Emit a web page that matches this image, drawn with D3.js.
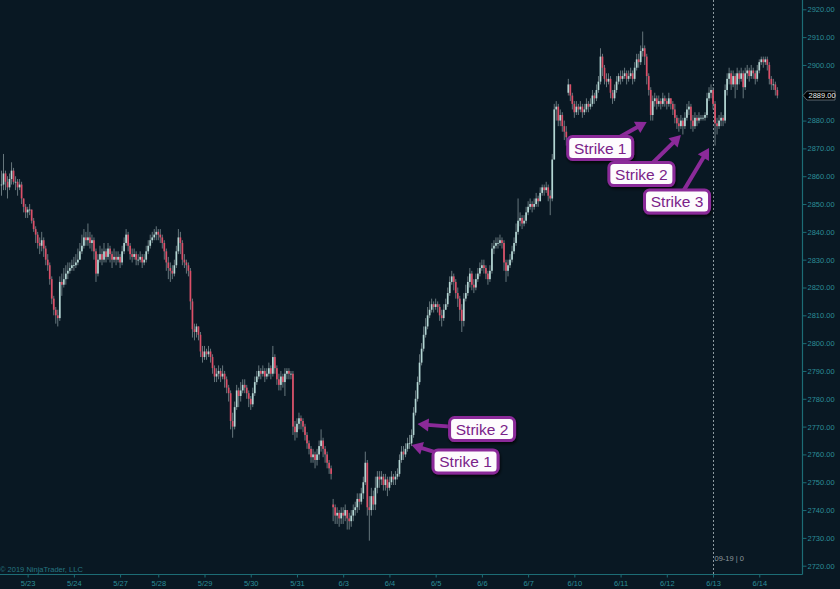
<!DOCTYPE html>
<html>
<head>
<meta charset="utf-8">
<script src="https://cdn.jsdelivr.net/npm/d3@7"></script>
<style>
  body { margin: 0; background: #091823; }
  svg { display: block; font-family: "Liberation Sans", Arial, sans-serif; }
</style>
</head>
<body>
<svg id="chart" width="840" height="589"></svg>
<script>
// ES 09-19, 60 minute bars, 5/22 evening -> 6/14
var closes = [
  2857,2861,2858,2856,2859,2862,2858,2858,2856,2857, 2852,2849,2847,2848,2848,2844,2841,2839,2836,2835,
  2837,2834,2830,2828,2823,2816,2812,2810,2809,2822, 2821,2823,2825,2826,2827,2828,2828,2829,2830,2833,
  2835,2838,2837,2838,2836,2837,2833,2825,2830,2832, 2830,2833,2831,2834,2832,2830,2831,2830,2831,2829,
  2833,2836,2839,2835,2832,2831,2832,2830,2830,2831, 2829,2830,2833,2835,2837,2838,2839,2840,2839,2838,
  2836,2833,2829,2827,2826,2825,2828,2833,2838,2836, 2830,2829,2828,2826,2815,2805,2804,2806,2803,2797,
  2795,2797,2796,2797,2795,2791,2788,2789,2790,2788, 2789,2787,2784,2782,2772,2770,2777,2783,2781,2783,
  2785,2784,2782,2780,2778,2782,2786,2788,2790,2789, 2790,2788,2789,2791,2789,2795,2791,2787,2785,2788,
  2786,2789,2790,2789,2789,2770,2768,2771,2773,2772, 2770,2767,2764,2762,2759,2760,2758,2760,2763,2765,
  2762,2760,2757,2755,2753,2741,2738,2739,2737,2739, 2738,2740,2737,2736,2738,2740,2741,2744,2743,2746,
  2750,2757,2741,2740,2745,2742,2748,2752,2751,2752, 2749,2751,2748,2750,2752,2751,2752,2753,2758,2761,
  2760,2762,2764,2764,2767,2775,2780,2786,2793,2798, 2803,2806,2810,2812,2814,2813,2814,2813,2810,2809,
  2812,2814,2818,2822,2824,2822,2818,2816,2812,2808, 2816,2818,2822,2825,2821,2820,2823,2825,2827,2828,
  2827,2825,2823,2826,2834,2835,2836,2836,2837,2836, 2829,2826,2828,2830,2833,2836,2840,2844,2845,2843,
  2844,2847,2849,2850,2849,2850,2852,2851,2854,2856, 2855,2856,2853,2852,2866,2884,2885,2880,2882,2878,
  2876,2874,2893,2889,2886,2883,2885,2884,2885,2883, 2884,2886,2885,2886,2889,2888,2891,2894,2903,2899,
  2895,2894,2895,2890,2888,2891,2894,2896,2895,2896, 2897,2895,2896,2897,2895,2899,2902,2901,2905,2906,
  2903,2896,2891,2882,2887,2888,2886,2887,2886,2888, 2887,2886,2888,2886,2884,2881,2879,2878,2880,2878,
  2881,2884,2885,2880,2878,2881,2880,2881,2881,2881, 2882,2888,2890,2891,2886,2879,2878,2880,2881,2880,
  2891,2895,2897,2893,2896,2893,2897,2895,2897,2892, 2897,2898,2896,2898,2897,2895,2898,2901,2902,2901,
  2902,2900,2895,2893,2893,2891,2889
];
var highs = [
  2862,2868,2862,2860,2861,2865,2863,2860,2859,2859, 2858,2852,2850,2849,2850,2848,2845,2842,2840,2838,
  2840,2838,2835,2832,2829,2824,2817,2813,2812,2824, 2825,2827,2828,2829,2829,2830,2831,2832,2834,2836,
  2839,2841,2840,2843,2840,2839,2838,2834,2832,2835, 2834,2836,2834,2836,2835,2833,2834,2833,2833,2832,
  2835,2838,2841,2840,2836,2834,2834,2833,2832,2833, 2832,2832,2835,2837,2839,2840,2841,2842,2841,2841,
  2839,2837,2834,2831,2829,2828,2830,2835,2841,2840, 2837,2832,2830,2829,2827,2816,2807,2807,2806,2804,
  2799,2799,2798,2799,2798,2796,2792,2791,2792,2791, 2792,2790,2788,2785,2783,2775,2779,2785,2784,2786,
  2787,2787,2785,2783,2781,2784,2788,2790,2792,2791, 2792,2791,2791,2793,2792,2799,2796,2792,2789,2790,
  2789,2791,2791,2791,2790,2790,2772,2773,2775,2774, 2773,2771,2768,2765,2763,2762,2761,2762,2765,2769,
  2766,2763,2761,2758,2756,2744,2742,2741,2740,2741, 2741,2742,2740,2739,2740,2742,2743,2746,2746,2748,
  2752,2761,2758,2745,2748,2747,2752,2754,2754,2754, 2753,2753,2752,2752,2754,2753,2754,2755,2760,2763,
  2763,2764,2766,2767,2769,2777,2783,2788,2796,2800, 2806,2809,2813,2815,2816,2815,2816,2815,2814,2812,
  2814,2816,2820,2824,2826,2825,2823,2820,2817,2814, 2818,2821,2824,2827,2826,2823,2825,2827,2829,2830,
  2830,2828,2826,2828,2836,2837,2838,2838,2839,2838, 2837,2830,2830,2832,2835,2838,2843,2852,2847,2846,
  2846,2849,2851,2852,2851,2852,2854,2853,2856,2857, 2857,2858,2857,2855,2868,2886,2887,2886,2884,2883,
  2880,2878,2895,2893,2890,2887,2887,2886,2887,2886, 2886,2888,2887,2888,2891,2890,2893,2896,2906,2904,
  2900,2897,2897,2896,2891,2893,2896,2897,2898,2898, 2899,2898,2898,2899,2898,2901,2904,2904,2907,2912,
  2907,2904,2897,2892,2889,2890,2889,2889,2888,2890, 2889,2888,2890,2888,2887,2886,2882,2881,2882,2881,
  2883,2886,2887,2886,2882,2883,2882,2883,2882,2882, 2883,2890,2892,2893,2892,2887,2881,2882,2883,2882,
  2893,2897,2899,2898,2898,2897,2899,2898,2899,2898, 2899,2900,2899,2900,2899,2898,2900,2902,2903,2903,
  2903,2903,2901,2896,2895,2894,2892
];
var lows = [
  2853,2855,2855,2852,2855,2857,2857,2855,2853,2855, 2850,2847,2845,2845,2846,2843,2840,2836,2834,2832,
  2833,2831,2828,2826,2821,2814,2810,2807,2806,2808, 2817,2820,2821,2823,2825,2826,2826,2827,2828,2830,
  2832,2834,2835,2835,2834,2833,2830,2822,2824,2829, 2828,2829,2829,2830,2829,2827,2829,2828,2829,2827,
  2828,2832,2835,2833,2830,2829,2830,2828,2828,2829, 2827,2828,2829,2832,2834,2836,2837,2837,2837,2836,
  2834,2830,2826,2823,2822,2823,2824,2827,2832,2832, 2828,2827,2825,2824,2812,2802,2801,2802,2801,2795,
  2793,2794,2794,2795,2793,2789,2786,2786,2787,2786, 2787,2784,2782,2779,2769,2766,2769,2776,2777,2779,
  2782,2782,2780,2777,2776,2777,2781,2785,2787,2787, 2788,2786,2787,2788,2787,2788,2789,2785,2783,2783,
  2784,2781,2787,2787,2787,2767,2765,2766,2769,2769, 2768,2765,2762,2760,2757,2757,2755,2756,2758,2761,
  2759,2757,2755,2753,2751,2736,2735,2735,2734,2735, 2735,2736,2733,2733,2734,2736,2738,2739,2740,2742,
  2744,2749,2738,2729,2738,2740,2740,2746,2748,2749, 2747,2747,2745,2747,2749,2749,2749,2751,2752,2757,
  2758,2759,2761,2762,2763,2766,2774,2779,2785,2792, 2797,2802,2805,2809,2811,2811,2812,2811,2808,2806,
  2808,2812,2813,2817,2821,2819,2816,2813,2808,2804, 2806,2815,2817,2820,2819,2818,2819,2822,2824,2826,
  2825,2823,2821,2822,2825,2832,2834,2834,2835,2834, 2826,2822,2824,2827,2829,2832,2835,2839,2842,2841,
  2842,2843,2846,2848,2847,2848,2849,2849,2851,2853, 2853,2854,2851,2846,2851,2866,2880,2878,2878,2876,
  2873,2871,2889,2887,2884,2881,2882,2882,2883,2881, 2882,2883,2883,2884,2885,2886,2887,2890,2893,2896,
  2893,2892,2893,2888,2886,2887,2890,2893,2893,2894, 2895,2893,2894,2895,2893,2894,2898,2899,2900,2903,
  2900,2893,2889,2880,2880,2885,2884,2885,2884,2885, 2885,2884,2885,2884,2882,2879,2877,2876,2877,2875,
  2877,2880,2882,2877,2876,2877,2878,2879,2880,2880, 2880,2881,2887,2888,2884,2871,2875,2877,2878,2878,
  2879,2889,2893,2891,2892,2888,2891,2893,2894,2888, 2891,2895,2894,2895,2895,2893,2894,2897,2900,2899,
  2900,2898,2893,2891,2891,2889,2888
];
// opens after a session gap (other bars open at the prior close)
var sessionOpens = { 165: 2742, 282: 2890 };

var dayLabels = ["5/23","5/24","5/27","5/28","5/29","5/30","5/31","6/3","6/4","6/5","6/6","6/7","6/10","6/11","6/12","6/13","6/14"];
var dayStartBar = [13,36,59,78,101,124,147,170,193,216,239,262,285,308,331,354,377];
var priceTicks = [2720,2730,2740,2750,2760,2770,2780,2790,2800,2810,2820,2830,2840,2850,2860,2870,2880,2890,2900,2910,2920];
var lastPrice = 2889.00;
var rolloverBar = 354;
var rolloverText = "09-19 | 0";

var strikeLabels = ["Strike 1","Strike 2","Strike 1","Strike 2","Strike 3"];
var strikeBars   = [204, 207, 321, 338, 352];
var strikePrices = [2763.4, 2770.9, 2879.5, 2874.8, 2870.1];

var bars = closes.map(function(c, i) {
  var o = sessionOpens[i] != null ? sessionOpens[i] : (i === 0 ? c : closes[i - 1]);
  return { i: i, open: o, high: highs[i], low: lows[i], close: c };
});

//------------------------------------------------------------------------------------->
var svg = d3.select("#chart");
var plotRight = 802, plotBottom = 574;

var x = d3.scaleLinear().domain([0, bars.length - 1]).range([1.5, 1.5 + (bars.length - 1) * 2.01]);
var y = d3.scaleLinear().domain([2720, 2920]).range([565.7, 9.3]);

var axisColor = "#1c6c75", labelColor = "#2b8d97";

svg.append("rect").attr("width", 840).attr("height", 589).attr("fill", "#091823");

// drop shadow for callouts
var defs = svg.append("defs");
var f = defs.append("filter").attr("id", "shadow").attr("x", "-30%").attr("y", "-30%").attr("width", "160%").attr("height", "180%");
f.append("feDropShadow").attr("dx", 1).attr("dy", 2).attr("stdDeviation", 1.8)
  .attr("flood-color", "#000").attr("flood-opacity", 0.75);
defs.append("clipPath").attr("id", "plot").append("rect")
  .attr("width", plotRight).attr("height", plotBottom);

// rollover dotted line
var rx = Math.round(x(rolloverBar)) + 0.5;
svg.append("line")
  .attr("x1", rx).attr("x2", rx).attr("y1", 0).attr("y2", plotBottom)
  .attr("stroke", "#8d9aa0").attr("stroke-width", 1).attr("stroke-dasharray", "2,2");
svg.append("text").attr("x", rx + 1).attr("y", 561)
  .attr("font-size", 7.5).attr("fill", "#8d979c").text(rolloverText);

// candles
var candles = svg.append("g").attr("clip-path", "url(#plot)")
  .selectAll("g").data(bars).enter().append("g");

candles.append("line")
  .attr("x1", function(d) { return x(d.i); })
  .attr("x2", function(d) { return x(d.i); })
  .attr("y1", function(d) { return y(d.high); })
  .attr("y2", function(d) { return y(d.low); })
  .attr("stroke", "#66767c").attr("stroke-width", 1);

candles.append("rect")
  .attr("x", function(d) { return x(d.i) - 0.85; })
  .attr("width", 1.7)
  .attr("y", function(d) { return y(Math.max(d.open, d.close)); })
  .attr("height", function(d) { return Math.max(0.8, Math.abs(y(d.open) - y(d.close))); })
  .attr("fill", function(d) { return d.close >= d.open ? "#b3d6d3" : "#dc4f68"; });

// frame
svg.append("line").attr("x1", 0).attr("x2", plotRight + 0.5).attr("y1", plotBottom + 0.5).attr("y2", plotBottom + 0.5)
  .attr("stroke", axisColor).attr("stroke-width", 1.2);
svg.append("line").attr("x1", plotRight + 0.5).attr("x2", plotRight + 0.5).attr("y1", 0).attr("y2", plotBottom + 0.5)
  .attr("stroke", axisColor).attr("stroke-width", 1.2);

// y axis (labels under the last-price marker are hidden, as in the platform)
var shownTicks = priceTicks.filter(function(p) { return Math.abs(p - lastPrice) > 3; });
var yAxis = svg.append("g").attr("transform", "translate(" + (plotRight + 0.5) + ",0)")
  .call(d3.axisRight(y).tickValues(shownTicks).tickFormat(d3.format(".2f")).tickSize(4).tickSizeOuter(0).tickPadding(1));
yAxis.select(".domain").remove();
yAxis.selectAll("line").attr("stroke", axisColor);
yAxis.selectAll("text").attr("fill", labelColor).attr("font-size", 7.5).attr("font-family", "Liberation Sans, Arial, sans-serif");

// x axis
var xAxis = svg.append("g").attr("transform", "translate(0," + (plotBottom + 0.5) + ")")
  .call(d3.axisBottom(x).tickValues(dayStartBar)
    .tickFormat(function(d, k) { return dayLabels[k]; }).tickSize(3).tickSizeOuter(0).tickPadding(3));
xAxis.select(".domain").remove();
xAxis.selectAll("line").attr("stroke", axisColor);
xAxis.selectAll("text").attr("fill", labelColor).attr("font-size", 7.5).attr("font-family", "Liberation Sans, Arial, sans-serif");

// copyright
svg.append("text").attr("x", 0).attr("y", 572).attr("font-size", 7.5)
  .attr("fill", "#267580").text("\u00a9 2019 NinjaTrader, LLC");

// last price marker
var ly = y(lastPrice);
svg.append("path")
  .attr("d", "M" + (plotRight + 1) + "," + ly + "L" + (plotRight + 5) + "," + (ly - 4.5) + "H835V" + (ly + 4.5) + "H" + (plotRight + 5) + "Z")
  .attr("fill", "#000").attr("stroke", "#6d7a80").attr("stroke-width", 0.8);
svg.append("text").attr("x", plotRight + 6.5).attr("y", ly).attr("dy", "0.35em")
  .attr("font-size", 7.5).attr("fill", "#e8eef0").text(d3.format(".2f")(lastPrice));

// strike callouts
var calloutOffsets = [[54, 16.5], [64.5, 5], [-46.5, 26], [-39.5, 39], [-32, 53.5]];
var purple = "#8b2a99";
strikeLabels.forEach(function(label, k) {
  var hx = x(strikeBars[k]), hy = y(strikePrices[k]);
  var cx = hx + calloutOffsets[k][0], cy = hy + calloutOffsets[k][1];
  var dx = hx - cx, dy = hy - cy, len = Math.sqrt(dx * dx + dy * dy);
  var ux = dx / len, uy = dy / len;
  var headLen = 11, headW = 6.5;
  var bx = hx - ux * headLen, by = hy - uy * headLen;
  var g = svg.append("g");
  g.append("line").attr("x1", cx).attr("y1", cy).attr("x2", bx + ux).attr("y2", by + uy)
    .attr("stroke", purple).attr("stroke-width", 4);
  g.append("path")
    .attr("d", "M" + hx + "," + hy + "L" + (bx - uy * headW) + "," + (by + ux * headW) + "L" + (bx + uy * headW) + "," + (by - ux * headW) + "Z")
    .attr("fill", purple);
  g.append("rect").attr("x", cx - 32.5).attr("y", cy - 11.5).attr("width", 65).attr("height", 23)
    .attr("rx", 5).attr("fill", "#fdfbfd").attr("stroke", purple).attr("stroke-width", 3)
    .attr("filter", "url(#shadow)");
  g.append("text").attr("x", cx).attr("y", cy).attr("dy", "0.36em").attr("text-anchor", "middle")
    .attr("font-size", 15.5).attr("fill", "#7a2289").text(label);
});
</script>
</body>
</html>
